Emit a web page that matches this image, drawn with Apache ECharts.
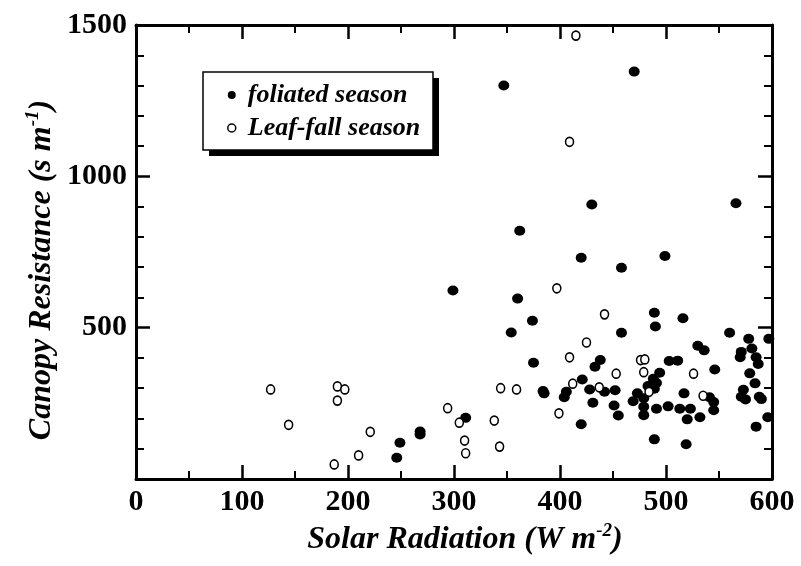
<!DOCTYPE html>
<html><head><meta charset="utf-8">
<script src="https://cdn.jsdelivr.net/npm/echarts@6/dist/echarts.min.js"></script>
<style>html,body{margin:0;padding:0;background:#fff}#c{width:801px;height:566px}</style>
</head><body><div id="c"></div>
<script>
const xTicks = [0, 100, 200, 300, 400, 500, 600];
const yTicks = [0, 500, 1000, 1500];
const seriesNames = ['foliated season', 'Leaf-fall season'];
const foliated = [
 [470,1346],[347,1300],[430,907],[566,911],[362,820],[420,731],[499,737],[458,698],[299,623],[360,596],
 [374,523],[489,549],[516,531],[490,504],[354,484],[458,483],[560,483],[578,463],[597,463],[530,440],
 [536,425],[571,420],[581,431],[570,402],[585,402],[587,380],[375,384],[438,393],[433,371],[503,390],
 [511,391],[546,362],[494,351],[579,349],[421,329],[488,331],[491,317],[384,291],[385,283],[406,288],
 [404,270],[428,296],[442,288],[452,293],[431,252],[451,243],[455,210],[473,283],[469,257],[479,267],
 [479,239],[479,211],[483,307],[489,298],[491,232],[502,240],[513,232],[523,232],[520,197],[532,204],
 [517,283],[541,270],[545,254],[545,227],[573,295],[575,263],[571,272],[588,272],[590,264],[596,204],
 [585,173],[584,316],[489,131],[519,115],[420,181],[311,202],[249,120],[246,70],[268,157],[268,147]
];
const leafFall = [
 [415,1465],[409,1114],[397,630],[442,544],[425,451],[409,402],[476,393],[480,395],[453,348],[479,353],
 [526,348],[344,300],[359,296],[412,315],[437,303],[484,288],[535,275],[399,217],[294,234],[305,186],
 [310,127],[311,85],[338,193],[343,107],[127,296],[144,179],[190,306],[197,296],[190,259],[221,156],
 [210,78],[187,48]
];
const FONT = 'Liberation Serif';
const chart = echarts.init(document.getElementById('c'), null, {renderer: 'canvas'});
const axisCommon = {
  min: 0,
  axisLine: {show: true, onZero: false, lineStyle: {color: '#000', width: 3}},
  axisTick: {show: true, inside: true, length: 14, lineStyle: {color: '#000', width: 2.5}},
  minorTick: {show: true, length: 8, lineStyle: {color: '#000', width: 2}},
  splitLine: {show: false}
};
const supStyle = {s: {fontFamily: FONT, fontStyle: 'italic', fontWeight: 'bold', fontSize: 19, padding: [0,0,17,0]}};
chart.setOption({
  animation: false,
  backgroundColor: '#fff',
  grid: {left: 136, right: 29, top: 25, bottom: 87, containLabel: false},
  xAxis: [
    Object.assign({}, axisCommon, {type: 'value', position: 'bottom', max: xTicks[xTicks.length-1], interval: 100,
      minorTick: Object.assign({}, axisCommon.minorTick, {splitNumber: 2}),
      axisLabel: {show: true, margin: 8, color: '#000', fontFamily: FONT, fontWeight: 'bold', fontSize: 30}}),
    Object.assign({}, axisCommon, {type: 'value', position: 'top', max: 600, interval: 100,
      minorTick: Object.assign({}, axisCommon.minorTick, {splitNumber: 2}),
      axisLabel: {show: false}})
  ],
  yAxis: [
    Object.assign({}, axisCommon, {type: 'value', position: 'left', max: yTicks[yTicks.length-1], interval: 500,
      minorTick: Object.assign({}, axisCommon.minorTick, {splitNumber: 5}),
      axisLabel: {show: true, margin: 9, color: '#000', fontFamily: FONT, fontWeight: 'bold', fontSize: 30,
        formatter: v => v === 0 ? '' : String(v)}}),
    Object.assign({}, axisCommon, {type: 'value', position: 'right', max: 1500, interval: 500,
      minorTick: Object.assign({}, axisCommon.minorTick, {splitNumber: 5}),
      axisLabel: {show: false}})
  ],
  legend: {
    orient: 'vertical', left: 203, top: 72, z: 20,
    padding: [10, 14, 10, 24], itemGap: 7, itemWidth: 8, itemHeight: 8,
    backgroundColor: 'transparent', borderWidth: 0,
    textStyle: {color: '#000', fontFamily: FONT, fontWeight: 'bold', fontStyle: 'italic', fontSize: 26, padding: [0,0,0,7]},
    data: [
      {name: seriesNames[0], icon: 'circle'},
      {name: seriesNames[1], icon: 'circle', itemStyle: {color: '#fff', borderColor: '#000', borderWidth: 1.5}}
    ]
  },
  graphic: [
    {type: 'rect', z: 1, shape: {x: 209, y: 78, width: 230, height: 78}, style: {fill: '#000'}},
    {type: 'rect', z: 2, shape: {x: 203, y: 72, width: 230, height: 78}, style: {fill: '#fff', stroke: '#000', lineWidth: 1.5}},
    {type: 'text', x: 42, y: 270, rotation: Math.PI / 2, z: 10,
      style: {text: 'Canopy Resistance (s m{s|-1})', align: 'center', verticalAlign: 'middle',
        font: 'italic bold 32px "Liberation Serif"', fill: '#000', rich: supStyle}},
    {type: 'text', x: 465, y: 540, z: 10,
      style: {text: 'Solar Radiation (W m{s|-2})', align: 'center', verticalAlign: 'middle',
        font: 'italic bold 32px "Liberation Serif"', fill: '#000', rich: supStyle}}
  ],
  series: [
    {name: seriesNames[0], type: 'scatter', data: foliated, symbol: 'circle', symbolSize: [11, 10],
      itemStyle: {color: '#000', opacity: 1}},
    {name: seriesNames[1], type: 'scatter', data: leafFall, symbol: 'circle', symbolSize: [8, 9],
      itemStyle: {color: '#fff', borderColor: '#000', borderWidth: 1.6, opacity: 1}}
  ]
});
</script></body></html>
